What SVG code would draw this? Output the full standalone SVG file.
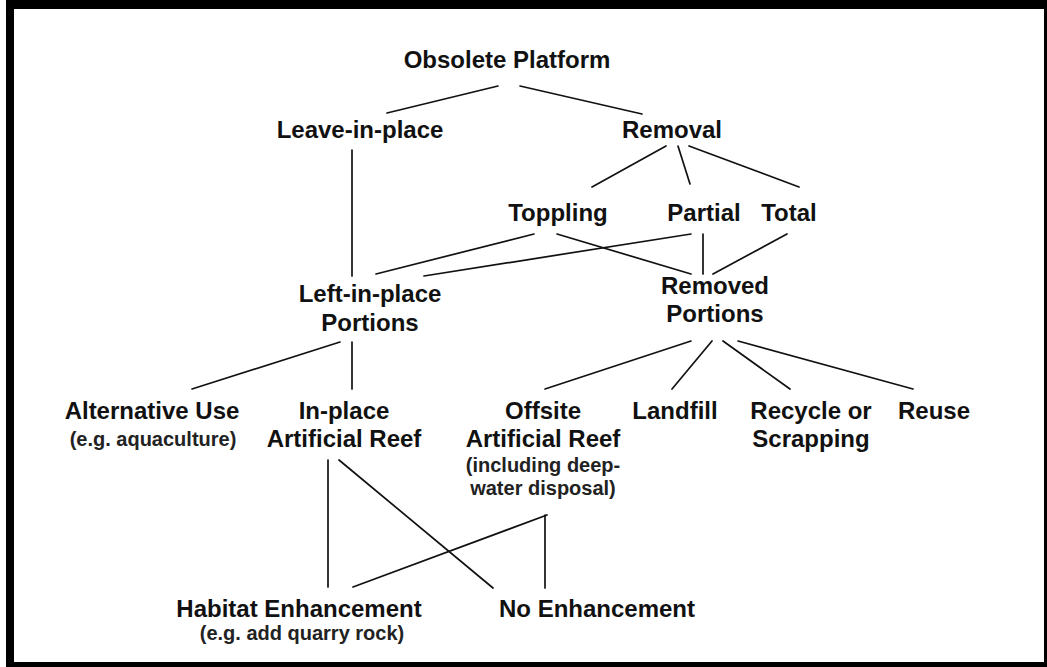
<svg xmlns="http://www.w3.org/2000/svg" width="1047" height="667" viewBox="0 0 1047 667">
<style>
.t{font-family:"Liberation Sans",Arial,Helvetica,sans-serif;font-weight:bold;font-size:24px;fill:#111;text-anchor:middle}
.s{font-family:"Liberation Sans",Arial,Helvetica,sans-serif;font-weight:bold;font-size:20px;fill:#222;text-anchor:middle}
.c line{stroke:#111;stroke-width:1.7;stroke-linecap:round}
</style>
<rect x="0" y="0" width="1047" height="667" fill="#fff"/>
<rect x="6" y="0" width="1041" height="667" fill="#000"/>
<rect x="14" y="9" width="1030" height="653" fill="#fff"/>
<g id="connectors" class="c">
<line x1="498" y1="86" x2="387" y2="113"/>
<line x1="520" y1="86" x2="642" y2="114"/>
<line x1="352" y1="150" x2="352" y2="276"/>
<line x1="666" y1="146" x2="592" y2="187"/>
<line x1="678" y1="146" x2="690" y2="184"/>
<line x1="689" y1="146" x2="799" y2="187"/>
<line x1="534" y1="234" x2="376" y2="274"/>
<line x1="557" y1="234" x2="691" y2="274"/>
<line x1="691" y1="234" x2="424" y2="276"/>
<line x1="703" y1="234" x2="703" y2="274"/>
<line x1="787" y1="234" x2="713" y2="274"/>
<line x1="340" y1="342" x2="192" y2="389"/>
<line x1="352" y1="342" x2="352" y2="389"/>
<line x1="691" y1="341" x2="545" y2="389"/>
<line x1="712" y1="341" x2="672" y2="389"/>
<line x1="723" y1="341" x2="790" y2="389"/>
<line x1="738" y1="341" x2="913" y2="389"/>
<line x1="328" y1="460" x2="328" y2="587"/>
<line x1="339" y1="460" x2="493" y2="588"/>
<line x1="547" y1="515" x2="353" y2="587"/>
<line x1="545" y1="515" x2="545" y2="588"/>
</g>
<g id="obsolete"><text class="t" x="507" y="68">Obsolete Platform</text></g>
<g id="leave"><text class="t" x="360" y="138">Leave-in-place</text></g>
<g id="removal"><text class="t" x="672" y="138">Removal</text></g>
<g id="toppling"><text class="t" x="558" y="221">Toppling</text></g>
<g id="partial"><text class="t" x="704" y="221">Partial</text></g>
<g id="total"><text class="t" x="789" y="221">Total</text></g>
<g id="leftportions"><text class="t" x="370" y="302">Left-in-place</text><text class="t" x="370" y="331">Portions</text></g>
<g id="removedportions"><text class="t" x="715" y="294">Removed</text><text class="t" x="715" y="322">Portions</text></g>
<g id="altuse"><text class="t" x="152" y="419">Alternative Use</text><text class="s" x="153" y="446">(e.g. aquaculture)</text></g>
<g id="inplacereef"><text class="t" x="344" y="419">In-place</text><text class="t" x="344" y="447">Artificial Reef</text></g>
<g id="offsitereef"><text class="t" x="543" y="419">Offsite</text><text class="t" x="543" y="447">Artificial Reef</text><text class="s" x="543" y="472">(including deep-</text><text class="s" x="543" y="495">water disposal)</text></g>
<g id="landfill"><text class="t" x="675" y="419">Landfill</text></g>
<g id="recycle"><text class="t" x="811" y="419">Recycle or</text><text class="t" x="811" y="447">Scrapping</text></g>
<g id="reuse"><text class="t" x="934" y="419">Reuse</text></g>
<g id="habitat"><text class="t" x="299" y="617">Habitat Enhancement</text><text class="s" x="302" y="640">(e.g. add quarry rock)</text></g>
<g id="noenh"><text class="t" x="597" y="617">No Enhancement</text></g>
</svg>
